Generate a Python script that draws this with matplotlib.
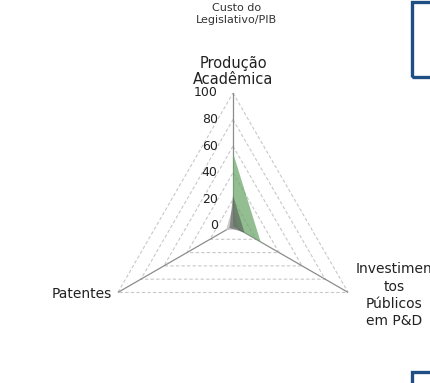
import numpy as np
import matplotlib.pyplot as plt
from matplotlib.patches import Rectangle

# eixos (sentido horário a partir do topo)
categorias = ["Produção\nAcadêmica", "Investimen\ntos\nPúblicos\nem P&D", "Patentes"]
serie_verde = [55, 24, 0]
serie_cinza = [23, 10, 3]
serie_clara = [15, 5, 6]
ticks = [0, 20, 40, 60, 80, 100]

fig = plt.figure(figsize=(4.30, 3.83), dpi=100)
ax = fig.add_axes([0.2326, 0.0627, 0.6186, 0.6945], projection="polar")
ax.set_theta_offset(np.pi / 2)
ax.set_theta_direction(-1)
ax.set_ylim(0, 100)
ax.axis("off")

ang = np.linspace(0, 2 * np.pi, len(categorias), endpoint=False)
ang_f = np.append(ang, ang[0])

# grade triangular tracejada
for t in ticks[1:]:
    ax.plot(ang_f, [t] * len(ang_f), ls=(0, (3, 2)), color="#c8c8c8", lw=0.8, zorder=1)
# eixos radiais
for a in ang:
    ax.plot([a, a], [0, 100], color="#8c8c8c", lw=0.9, zorder=2)

def fecha(v):
    return v + v[:1]

ax.fill(ang_f, fecha(serie_clara), color="#c4c4c4", alpha=0.9, lw=0, zorder=3)
ax.fill(ang_f, fecha(serie_verde), color="#6ea86e", alpha=0.75, lw=0, zorder=4)
ax.fill(ang_f, fecha(serie_cinza), color="#505050", alpha=0.55, lw=0, zorder=5)

# rótulos da escala
for t in ticks:
    ax.annotate(str(t), xy=(0, t), xytext=(-11, 0), textcoords="offset points",
                ha="right", va="center", fontsize=9, color="#222222",
                annotation_clip=False)

# rótulos das categorias
ax.annotate(categorias[0], xy=(ang[0], 100), xytext=(0, 4), textcoords="offset points",
            ha="center", va="bottom", fontsize=10.5, linespacing=1.15,
            color="#222222", annotation_clip=False)
ax.annotate(categorias[1], xy=(ang[1], 100), xytext=(33, -2), textcoords="offset points",
            ha="center", va="center", fontsize=10, linespacing=1.3,
            color="#222222", annotation_clip=False)
ax.annotate(categorias[2], xy=(ang[2], 100), xytext=(-4, -1), textcoords="offset points",
            ha="right", va="center", fontsize=10, color="#222222",
            annotation_clip=False)

fig.text(0.551, 0.993, "Custo do\nLegislativo/PIB", ha="center", va="top",
         fontsize=8, color="#333333", linespacing=1.3)

# caixas azuis cortadas à direita
fig.patches.append(Rectangle((412 / 430, 1 - 77 / 383), 0.2, 75 / 383,
                             transform=fig.transFigure, fill=False,
                             edgecolor="#1f4e85", lw=2.4))
fig.patches.append(Rectangle((412 / 430, 1 - 460 / 383), 0.2, 88 / 383,
                             transform=fig.transFigure, fill=False,
                             edgecolor="#1f4e85", lw=2.4))

fig.savefig("out.png", dpi=100)
